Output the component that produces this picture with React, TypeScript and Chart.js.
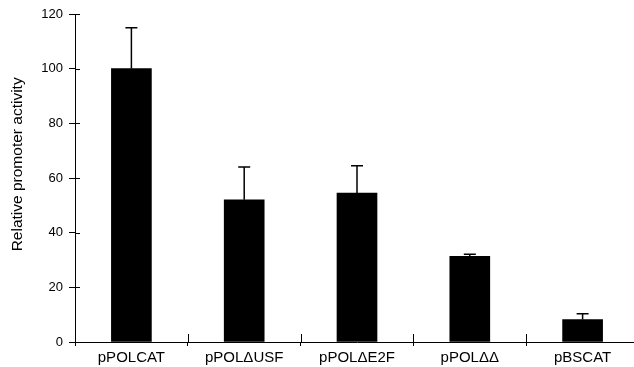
import React, { useEffect, useRef } from "react";
import { Chart, registerables } from "chart.js";

Chart.register(...registerables);

const categories = ["pPOLCAT", "pPOL\u0394USF", "pPOL\u0394E2F", "pPOL\u0394\u0394", "pBSCAT"];
const activity = [100, 52, 54.5, 31.3, 8.2];
const errorUpper = [15, 12, 10, 0.8, 2.1];
const yTicks = [0, 20, 40, 60, 80, 100, 120];
const yTitle = "Relative promoter activity";

const FONT = "'Liberation Sans', Arial, Helvetica, sans-serif";

const axesPlugin = {
  id: "crossTicks",
  afterDraw(chart: any) {
    const ctx = chart.ctx;
    const { left, bottom } = chart.chartArea;
    const ys = chart.scales.y;
    const xs = chart.scales.x;
    ctx.save();
    ctx.strokeStyle = "#000";
    ctx.lineWidth = 1;
    yTicks.forEach((v) => {
      const py = Math.round(ys.getPixelForValue(v)) + 0.5;
      ctx.beginPath();
      ctx.moveTo(left, py);
      ctx.lineTo(left + 5, py);
      ctx.stroke();
    });
    for (let i = 1; i < categories.length; i++) {
      const px = Math.round((xs.getPixelForValue(i - 1) + xs.getPixelForValue(i)) / 2) + 0.5;
      ctx.beginPath();
      ctx.moveTo(px, bottom);
      ctx.lineTo(px, bottom - 8);
      ctx.stroke();
    }
    ctx.fillStyle = "#000";
    ctx.font = `15.5px ${FONT}`;
    ctx.textAlign = "center";
    ctx.textBaseline = "middle";
    ctx.translate(18, ys.getPixelForValue(65));
    ctx.rotate(-Math.PI / 2);
    ctx.fillText(yTitle, 0, 0);
    ctx.restore();
  },
};

const errorBarPlugin = {
  id: "errorBars",
  afterDatasetsDraw(chart: any) {
    const ctx = chart.ctx;
    const meta = chart.getDatasetMeta(0);
    const ys = chart.scales.y;
    ctx.save();
    ctx.strokeStyle = "#000";
    ctx.lineWidth = 1.5;
    meta.data.forEach((bar: any, i: number) => {
      const x = bar.x;
      const yTop = ys.getPixelForValue(activity[i]);
      const yErr = ys.getPixelForValue(activity[i] + errorUpper[i]);
      ctx.beginPath();
      ctx.moveTo(x, yTop);
      ctx.lineTo(x, yErr);
      ctx.moveTo(x - 6, yErr);
      ctx.lineTo(x + 6, yErr);
      ctx.stroke();
    });
    ctx.restore();
  },
};

export default function App() {
  const ref = useRef<HTMLCanvasElement>(null);
  useEffect(() => {
    if (!ref.current) return;
    const chart = new Chart(ref.current, {
      type: "bar",
      data: {
        labels: categories,
        datasets: [
          {
            data: activity,
            backgroundColor: "#000",
            borderWidth: 0,
            barThickness: 40,
          },
        ],
      },
      options: {
        responsive: false,
        animation: false,
        devicePixelRatio: 1,
        layout: { padding: { top: 14, right: 1, left: 0, bottom: 0 } },
        plugins: { legend: { display: false }, tooltip: { enabled: false } },
        scales: {
          x: {
            offset: true,
            grid: {
              offset: true,
              display: true,
              drawOnChartArea: false,
              drawTicks: true,
              tickLength: 4,
              color: "#000",
            },
            border: { display: true, color: "#000", width: 1 },
            ticks: {
              color: "#000",
              font: { family: FONT, size: 15 },
              padding: 3,
              maxRotation: 0,
              autoSkip: false,
            },
            afterFit(scale: any) {
              scale.height = 25;
            },
          },
          y: {
            min: 0,
            max: 120,
            afterBuildTicks(scale: any) {
              scale.ticks = yTicks.map((v) => ({ value: v }));
            },
            grid: {
              display: true,
              drawOnChartArea: false,
              drawTicks: true,
              tickLength: 6,
              color: "#000",
            },
            border: { display: true, color: "#000", width: 1 },
            ticks: {
              color: "#000",
              font: { family: FONT, size: 13 },
              padding: 6,
            },
            afterFit(scale: any) {
              scale.width = 75;
            },
          },
        },
      },
      plugins: [errorBarPlugin, axesPlugin],
    });
    return () => chart.destroy();
  }, []);
  return (
    <div
      style={{
        position: "absolute",
        left: 0,
        top: 0,
        width: 634,
        height: 367,
        overflow: "hidden",
        background: "#fff",
      }}
    >
      <canvas ref={ref} width={640} height={367} style={{ display: "block" }} />
    </div>
  );
}
